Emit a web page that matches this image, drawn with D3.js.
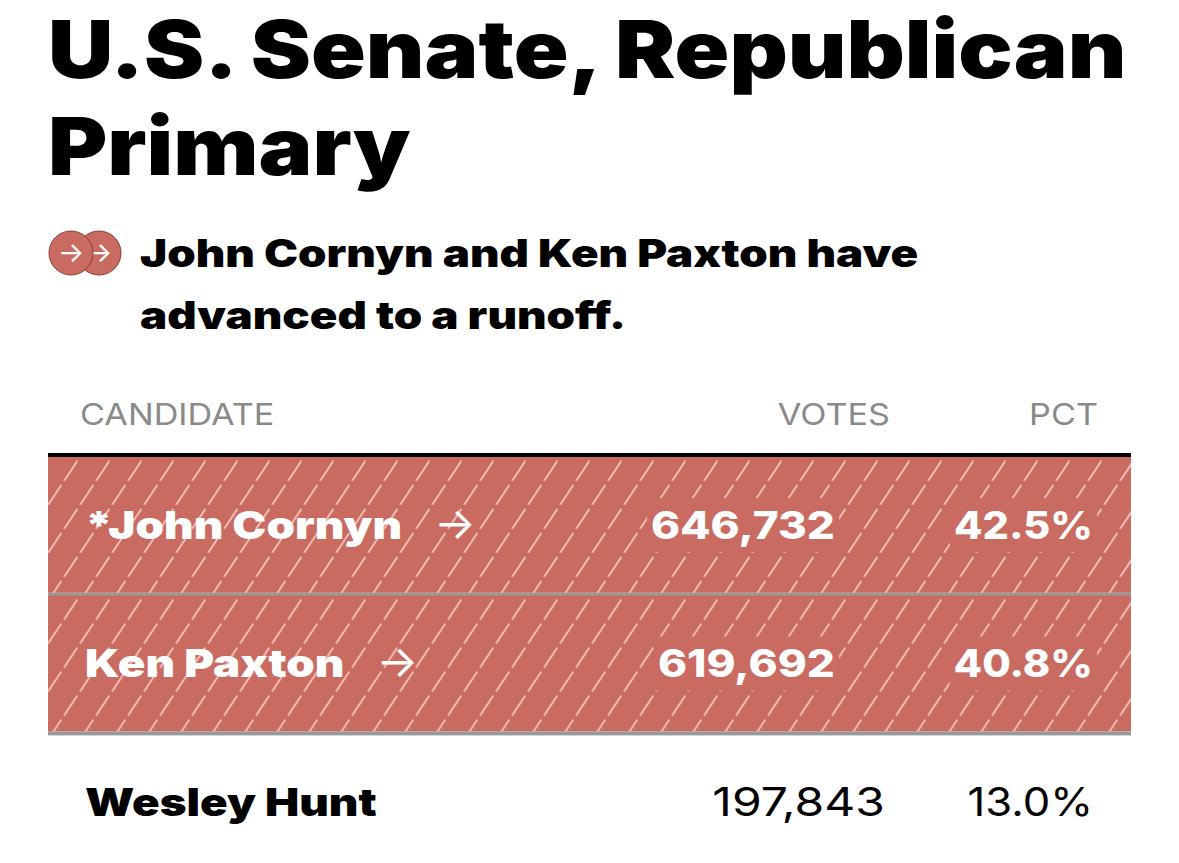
<!DOCTYPE html>
<html><head><meta charset="utf-8">
<script src="https://cdn.jsdelivr.net/npm/d3@7"></script>
<style>body{margin:0;background:#fff}</style>
</head><body>
<div id="chart"></div>
<script>
// data
var titleLines = ["U.S. Senate, Republican", "Primary"];
var noteLines = ["John Cornyn and Ken Paxton have", "advanced to a runoff."];
var candidates = ["*John Cornyn", "Ken Paxton", "Wesley Hunt"];
var votes = [646732, 619692, 197843];
var pcts = [42.5, 40.8, 13.0];
var advanced = [true, true, false];

var W = 1179, H = 863;
var svg = d3.select("#chart").append("svg").attr("width", W).attr("height", H);
var red = "#c96b61";
var font = "Inter, 'Noto Sans', sans-serif";

// widen glyphs to approximate the wider original typeface
function stretch(t, f) {
  var w = t.node().getComputedTextLength();
  t.attr("textLength", w * f).attr("lengthAdjust", "spacingAndGlyphs");
  return t;
}

// hatch pattern
var pat = svg.append("defs").append("pattern")
  .attr("id", "hatch").attr("patternUnits", "userSpaceOnUse")
  .attr("width", 32).attr("height", 48);
pat.append("rect").attr("width", 32).attr("height", 48).attr("fill", red);
pat.append("path").attr("d", "M-16,48 L16,0 M16,48 L48,0")
  .attr("stroke", "#f2b9b1").attr("stroke-width", 2)
  .attr("stroke-dasharray", "24,5");

// title
svg.selectAll(".title").data(titleLines).enter().append("text")
  .attr("x", 48).attr("y", function(d, i) { return 78 + i * 97; })
  .attr("font-family", font).attr("font-weight", 900).attr("font-size", 80)
  .attr("fill", "#000").text(function(d) { return d; })
  .each(function() { stretch(d3.select(this), 1.13); });

// runoff icons
[99, 71].forEach(function(cx, i) {
  svg.append("circle").attr("cx", cx).attr("cy", 253).attr("r", 22)
    .attr("fill", red).attr("stroke", "#8c3a33").attr("stroke-width", 1);
  svg.append("text").attr("x", cx).attr("y", 262).attr("text-anchor", "middle")
    .attr("font-family", font).attr("font-size", 28).attr("fill", "#fff").text("→");
});

svg.selectAll(".note").data(noteLines).enter().append("text")
  .attr("x", 140).attr("y", function(d, i) { return 267 + i * 62; })
  .attr("font-family", font).attr("font-weight", 900).attr("font-size", 38)
  .text(function(d) { return d; })
  .each(function() { stretch(d3.select(this), 1.2); });

// headers
var x0 = 48, x1 = 1131, votesX = 890, pctX = 1098;
var hdr = [["CANDIDATE", 80, "start"], ["VOTES", votesX, "end"], ["PCT", pctX, "end"]];
hdr.forEach(function(h) {
  var t = svg.append("text").attr("x", h[1]).attr("y", 425).attr("text-anchor", h[2])
    .attr("font-family", font).attr("font-size", 30).attr("fill", "#8a8a8a").text(h[0]);
  stretch(t, 1.14);
});
svg.append("rect").attr("x", x0).attr("y", 453).attr("width", x1 - x0).attr("height", 4).attr("fill", "#000");

var y = d3.scaleBand().domain(d3.range(candidates.length)).range([457, 870]).paddingInner(0.02);
var fmt = d3.format(",");

var rows = svg.selectAll(".row").data(candidates).enter().append("g")
  .attr("transform", function(d, i) { return "translate(0," + y(i) + ")"; });

rows.filter(function(d, i) { return advanced[i]; }).each(function(d, i) {
  var g = d3.select(this), h = y.bandwidth();
  g.append("rect").attr("x", x0).attr("width", x1 - x0).attr("height", h).attr("fill", "url(#hatch)");
  g.append("rect").attr("x", x0).attr("y", h).attr("width", x1 - x0).attr("height", 4).attr("fill", "#999");
});

rows.each(function(d, i) {
  var g = d3.select(this), adv = advanced[i], h = y.bandwidth();
  var cy = h / 2 + 14;
  var col = adv ? "#fff" : "#000";
  var vX = adv ? 835 : 885;
  var name = g.append("text").attr("x", 85).attr("y", cy)
    .attr("font-family", font).attr("font-weight", 900).attr("font-size", 38)
    .attr("fill", col).text(d);
  stretch(name, 1.2);
  if (adv) {
    var bb = name.node().getBBox();
    g.append("text").attr("x", 85 + +name.attr("textLength") + 32).attr("y", cy)
      .attr("font-family", font).attr("font-size", 44).attr("fill", "#fff").text("→");
  }
  var vals = [[fmt(votes[i]), vX, adv ? 1.16 : 1.2], [pcts[i].toFixed(1) + "%", 1093, 1.09]];
  vals.forEach(function(v) {
    var t = g.append("text").attr("x", v[1]).attr("y", cy).attr("text-anchor", "end")
      .attr("font-family", font).attr("font-weight", adv ? 800 : 400)
      .attr("font-size", adv ? 38 : 40).attr("fill", col).text(v[0]);
    stretch(t, v[2]);
    if (adv) {
      var b = t.node().getBBox();
      g.insert("rect", "text").attr("x", b.x - 4).attr("y", b.y - 4)
        .attr("width", b.width + 8).attr("height", b.height + 8).attr("fill", red);
    }
  });
});
</script>
</body></html>
